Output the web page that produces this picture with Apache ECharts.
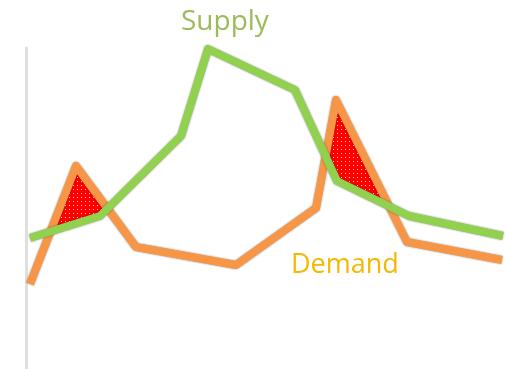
<!DOCTYPE html>
<html><head><meta charset="utf-8">
<script src="https://cdn.jsdelivr.net/npm/echarts@6/dist/echarts.min.js"></script>
<style>html,body{margin:0;padding:0;background:#fff}#c{width:508px;height:369px}</style>
</head><body><div id="c"></div>
<script>
// Quantity (x) and price (y) values
var supplyX = [4, 74, 155, 182, 269, 311, 383, 477];
var supplyY = [131, 153, 233, 320, 279, 188, 153, 133];
var demandX = [4, 50, 110, 210, 290, 310, 381, 476];
var demandY = [85, 203, 122, 104, 161, 269, 127, 109];
var labels = ['Supply', 'Demand'];

function interp(xs, ys, x) {
  for (var i = 0; i < xs.length - 1; i++) {
    if (x >= xs[i] && x <= xs[i + 1]) {
      var t = (x - xs[i]) / (xs[i + 1] - xs[i]);
      return ys[i] + t * (ys[i + 1] - ys[i]);
    }
  }
  return null;
}
// polygons where demand exceeds supply
function buildPolys() {
  var xs = supplyX.concat(demandX).sort(function (a, b) { return a - b; });
  var lo = Math.max(supplyX[0], demandX[0]);
  var hi = Math.min(supplyX[supplyX.length - 1], demandX[demandX.length - 1]);
  xs = xs.filter(function (v, i, a) { return v >= lo && v <= hi && a.indexOf(v) === i; });
  var polys = [], cur = null;
  for (var i = 0; i < xs.length; i++) {
    var x = xs[i], s = interp(supplyX, supplyY, x), d = interp(demandX, demandY, x);
    if (i > 0) {
      var px = xs[i - 1], ps = interp(supplyX, supplyY, px), pd = interp(demandX, demandY, px);
      var f0 = pd - ps, f1 = d - s;
      if (f0 * f1 < 0) {
        var t = f0 / (f0 - f1), cx = px + t * (x - px), cy = ps + t * (s - ps);
        if (cur) { cur.top.push([cx, cy]); polys.push(cur); cur = null; }
        else { cur = { top: [[cx, cy]], bot: [] }; }
      }
    }
    if (d > s && cur) { cur.top.push([x, d]); cur.bot.push([x, s]); }
  }
  return polys.map(function (p) {
    return p.top.concat(p.bot.slice().reverse());
  });
}
var polys = buildPolys();

var pc = document.createElement('canvas');
pc.width = 4; pc.height = 4;
var g = pc.getContext('2d');
g.fillStyle = '#ff0000'; g.fillRect(0, 0, 4, 4);
g.fillStyle = 'rgba(255,255,255,0.85)'; g.fillRect(1, 1, 1, 1);

var chart = echarts.init(document.getElementById('c'));
function pairs(xs, ys) { return xs.map(function (x, i) { return [x, ys[i]]; }); }
var lineShadow = { shadowColor: 'rgba(0,0,0,0.45)', shadowBlur: 2 };
chart.setOption({
  animation: false,
  grid: { left: 26, right: 0, top: 48, bottom: 0 },
  xAxis: { type: 'value', min: 0, max: 482, show: false },
  yAxis: { type: 'value', min: 0, max: 321, splitLine: { show: false },
    axisLine: { show: true, lineStyle: { color: '#e0e0e0', width: 3 } },
    axisTick: { show: false }, axisLabel: { show: false } },
  series: [
    { type: 'custom', z: 1, data: polys.map(function (p, i) { return i; }),
      renderItem: function (params, api) {
        var pts = polys[params.dataIndex].map(function (p) { return api.coord(p); });
        return { type: 'polygon', shape: { points: pts },
          style: { fill: { image: pc, repeat: 'repeat' }, stroke: null } };
      } },
    { type: 'line', name: labels[1], z: 3, data: pairs(demandX, demandY), symbol: 'none',
      lineStyle: Object.assign({ color: '#F79646', width: 8, join: 'round' }, lineShadow) },
    { type: 'line', name: labels[0], z: 4, data: pairs(supplyX, supplyY), symbol: 'none',
      lineStyle: Object.assign({ color: '#92D050', width: 8, join: 'round' }, lineShadow) }
  ],
  graphic: [
    { type: 'text', left: 181, top: 8, style: { text: labels[0], fill: '#9BBB59',
      font: '28px "Open Sans"', shadowColor: 'rgba(0,0,0,0.3)', shadowBlur: 2, shadowOffsetX: 1, shadowOffsetY: 1 } },
    { type: 'text', left: 291, top: 252, style: { text: labels[1], fill: '#F5B800',
      font: '27px "Open Sans"', shadowColor: 'rgba(0,0,0,0.15)', shadowBlur: 1 } }
  ]
});
</script></body></html>
